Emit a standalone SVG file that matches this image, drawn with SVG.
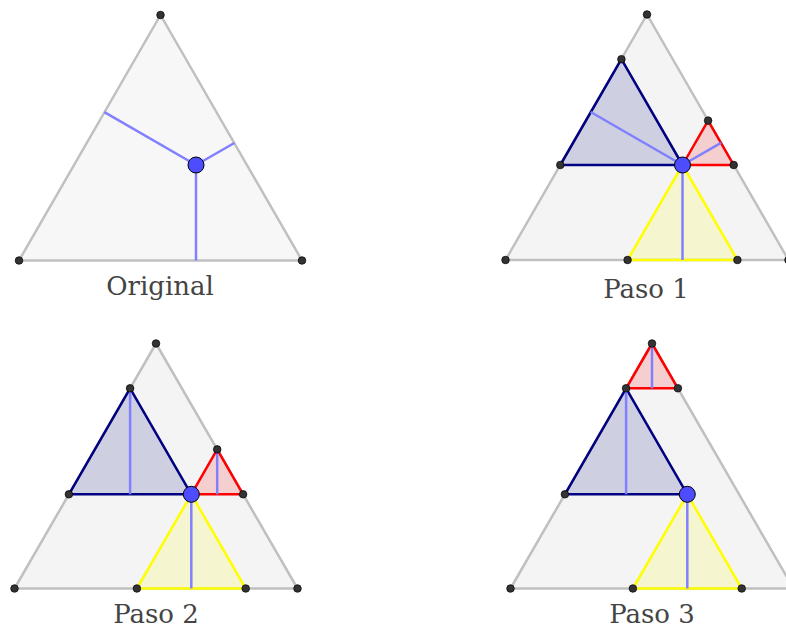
<svg xmlns="http://www.w3.org/2000/svg" width="786" height="630" viewBox="0 0 786 630">
<style>
.big{stroke:#c0c0c0;stroke-width:2.5;stroke-linejoin:round}
.blue{fill:rgba(0,0,128,0.15);stroke:#000080;stroke-width:2.5;stroke-linejoin:round}
.red{fill:rgba(255,0,0,0.15);stroke:#ff0000;stroke-width:2.5;stroke-linejoin:round}
.yel{fill:rgba(255,255,0,0.15);stroke:#ffff00;stroke-width:2.5;stroke-linejoin:round}
.perp{stroke:#8080ff;stroke-width:2.5;fill:none}
.dot{fill:#333333;stroke:#000000;stroke-width:0.7}
.pt{fill:#4d4dff;stroke:#000000;stroke-width:1}
.lbl{font-family:"DejaVu Serif","Liberation Serif",serif;font-size:26px;fill:#444444;text-anchor:middle}
</style>
<rect width="786" height="630" fill="#ffffff"/>

<g id="original">
  <polygon class="big" fill="#f7f7f7" points="160.5,15 19,260.5 302,260.5"/>
  <g class="perp">
    <line x1="196" y1="165" x2="104.4" y2="112.2"/>
    <line x1="196" y1="165" x2="234.3" y2="143"/>
    <line x1="196" y1="165" x2="196" y2="260.5"/>
  </g>
  <circle class="dot" cx="160.5" cy="15" r="3.8"/>
  <circle class="dot" cx="19" cy="260.5" r="3.8"/>
  <circle class="dot" cx="302" cy="260.5" r="3.8"/>
  <circle class="pt" cx="196" cy="165" r="8"/>
  <text class="lbl" x="160" y="295">Original</text>
</g>

<g id="paso1">
  <polygon class="big" fill="#f4f4f4" points="647,14.5 505.5,260 788.5,260"/>
  <polygon class="blue" points="621.4,59.2 560.3,165 682.5,165"/>
  <polygon class="red" points="708.1,120.6 682.5,165 733.7,165"/>
  <polygon class="yel" points="682.5,165 627.6,260 737.4,260"/>
  <g class="perp">
    <line x1="682.5" y1="165" x2="590.7" y2="112"/>
    <line x1="682.5" y1="165" x2="721" y2="142.8"/>
    <line x1="682.5" y1="165" x2="682.5" y2="260"/>
  </g>
  <circle class="dot" cx="647" cy="14.5" r="3.8"/>
  <circle class="dot" cx="505.5" cy="260" r="3.8"/>
  <circle class="dot" cx="788.5" cy="260" r="3.8"/>
  <circle class="dot" cx="621.4" cy="59.2" r="3.8"/>
  <circle class="dot" cx="560.3" cy="165" r="3.8"/>
  <circle class="dot" cx="708.1" cy="120.6" r="3.8"/>
  <circle class="dot" cx="733.7" cy="165" r="3.8"/>
  <circle class="dot" cx="627.6" cy="260" r="3.8"/>
  <circle class="dot" cx="737.4" cy="260" r="3.8"/>
  <circle class="pt" cx="682.5" cy="165" r="8"/>
  <text class="lbl" x="646" y="298">Paso 1</text>
</g>

<g id="paso2">
  <polygon class="big" fill="#f4f4f4" points="156,343.5 14.5,588.5 297.5,588.5"/>
  <polygon class="blue" points="130.1,388.3 68.9,494.3 191.3,494.3"/>
  <polygon class="red" points="217.2,449.4 191.3,494.3 243.1,494.3"/>
  <polygon class="yel" points="191.3,494.3 136.9,588.5 245.7,588.5"/>
  <g class="perp">
    <line x1="130.1" y1="388.3" x2="130.1" y2="494.3"/>
    <line x1="217.2" y1="449.4" x2="217.2" y2="494.3"/>
    <line x1="191.3" y1="494.3" x2="191.3" y2="588.5"/>
  </g>
  <circle class="dot" cx="156" cy="343.5" r="3.8"/>
  <circle class="dot" cx="14.5" cy="588.5" r="3.8"/>
  <circle class="dot" cx="297.5" cy="588.5" r="3.8"/>
  <circle class="dot" cx="130.1" cy="388.3" r="3.8"/>
  <circle class="dot" cx="68.9" cy="494.3" r="3.8"/>
  <circle class="dot" cx="217.2" cy="449.4" r="3.8"/>
  <circle class="dot" cx="243.1" cy="494.3" r="3.8"/>
  <circle class="dot" cx="136.9" cy="588.5" r="3.8"/>
  <circle class="dot" cx="245.7" cy="588.5" r="3.8"/>
  <circle class="pt" cx="191.3" cy="494.3" r="8"/>
  <text class="lbl" x="156" y="623">Paso 2</text>
</g>

<g id="paso3">
  <polygon class="big" fill="#f4f4f4" points="652,343.5 510.5,588.5 793.5,588.5"/>
  <polygon class="red" points="652,343.5 626.1,388.3 677.9,388.3"/>
  <polygon class="blue" points="626.1,388.3 564.9,494.3 687.3,494.3"/>
  <polygon class="yel" points="687.3,494.3 632.9,588.5 741.7,588.5"/>
  <g class="perp">
    <line x1="652" y1="343.5" x2="652" y2="388.3"/>
    <line x1="626.1" y1="388.3" x2="626.1" y2="494.3"/>
    <line x1="687.3" y1="494.3" x2="687.3" y2="588.5"/>
  </g>
  <circle class="dot" cx="652" cy="343.5" r="3.8"/>
  <circle class="dot" cx="510.5" cy="588.5" r="3.8"/>
  <circle class="dot" cx="793.5" cy="588.5" r="3.8"/>
  <circle class="dot" cx="626.1" cy="388.3" r="3.8"/>
  <circle class="dot" cx="677.9" cy="388.3" r="3.8"/>
  <circle class="dot" cx="564.9" cy="494.3" r="3.8"/>
  <circle class="dot" cx="632.9" cy="588.5" r="3.8"/>
  <circle class="dot" cx="741.7" cy="588.5" r="3.8"/>
  <circle class="pt" cx="687.3" cy="494.3" r="8"/>
  <text class="lbl" x="652" y="623">Paso 3</text>
</g>

<g id="connectors"></g>
</svg>
